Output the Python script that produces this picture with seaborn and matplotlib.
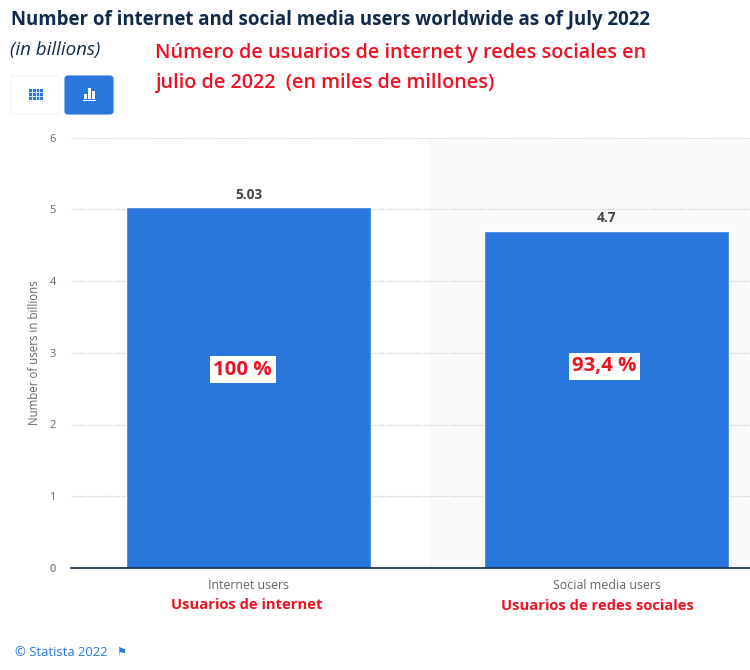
from matplotlib import pyplot as plt
from matplotlib.patches import FancyBboxPatch, Rectangle
import seaborn as sns
import pandas as pd

categories = ["Internet users", "Social media users"]
categories_es = ["Usuarios de internet", "Usuarios de redes sociales"]
users = [5.03, 4.7]
value_labels = ["5.03", "4.7"]
share_labels = ["100 %", "93,4 %"]
y_ticks = [0, 1, 2, 3, 4, 5, 6]

BLUE = "#2976dd"
RED = "#ee1122"
NAVY = "#0f2a4a"
W, H = 750, 670

sns.set_theme(style="white")
plt.rcParams["font.family"] = ["Open Sans", "DejaVu Sans"]

fig = plt.figure(figsize=(7.5, 6.7), dpi=100)
ax = fig.add_axes([71 / W, 1 - 568 / H, 679 / W, 430.5 / H])

df = pd.DataFrame({"category": categories, "users": users})
sns.barplot(data=df, x="category", y="users", color=BLUE, saturation=1, width=0.684, ax=ax, zorder=3)

ax.set_xlim(-0.497, 1.4)
ax.set_ylim(0, 6)
ax.axvspan(0.503, 1.4, ymax=0.995, color="#fafafa", zorder=0, lw=0)
ax.set_yticks(y_ticks)
ax.tick_params(axis="y", length=0, labelsize=8, labelcolor="#666666", pad=11)
ax.tick_params(axis="x", length=0, labelsize=8.9, labelcolor="#666666", pad=8)
ax.yaxis.grid(True, color="#c3d2de", linestyle=(0, (1, 1)), lw=1, zorder=1)
ax.set_axisbelow(True)
ax.set_xlabel("")
ax.set_ylabel("Number of users in billions", fontsize=8.3, color="#666666", labelpad=6)
for side in ["top", "right", "left"]:
    ax.spines[side].set_visible(False)
ax.spines["bottom"].set_color(NAVY)
ax.spines["bottom"].set_linewidth(1.2)
ax.spines["bottom"].set_zorder(5)

for i, v in enumerate(users):
    ax.annotate(value_labels[i], (i, v), xytext=(0, 4), textcoords="offset points", ha="center", va="bottom",
                fontsize=9.8, fontweight="bold", color="#444444")
    ax.annotate(categories_es[i], (i, 0), xytext=(-1.5 if i == 0 else -7, -26.5 if i == 0 else -27.5),
                textcoords="offset points", ha="center", va="center", fontsize=10.6, fontweight="bold",
                color=RED, annotation_clip=False)
    ax.text(i + (-0.017 if i == 0 else -0.007), 2.76 if i == 0 else 2.81, share_labels[i], ha="center", va="center",
            fontsize=14.7, fontweight="bold", color=RED, zorder=6,
            bbox=dict(facecolor="white", edgecolor="none", pad=2.5))

# header texts, placed in pixels from the top left
def put(x, y, s, **kw):
    fig.text(x / W, 1 - y / H, s, va="center", **kw)

put(11, 20, "Number of internet and social media users worldwide as of July 2022",
    fontsize=13.45, fontweight="bold", color=NAVY)
put(10, 50, "(in billions)", fontsize=13.5, style="italic", color=NAVY)
put(155, 53, "Número de usuarios de internet y redes sociales en", fontsize=14.2, fontweight="semibold", color=RED)
put(155, 83, "julio de 2022  (en miles de millones)", fontsize=14.2, fontweight="semibold", color=RED)
put(15, 652, "© Statista 2022", fontsize=9.4, color=BLUE)
put(116, 652, "⚑", fontsize=8, color=BLUE)

# table / chart switch buttons
def button(x, y, w, h, face, edge):
    fig.add_artist(FancyBboxPatch((x / W, 1 - (y + h) / H), w / W, h / H, transform=fig.transFigure,
                                  boxstyle="round,pad=0,rounding_size=0.004", fc=face, ec=edge, lw=0.8))

def block(x, y, w, h, color):
    fig.add_artist(Rectangle((x / W, 1 - (y + h) / H), w / W, h / H, transform=fig.transFigure, fc=color, ec="none"))

button(11, 76, 49, 38, "white", "#f3f3f3")
button(65, 76, 48, 38, BLUE, BLUE)
block(29, 89, 14, 11, BLUE)
for y0 in (92, 96):
    block(29, y0, 14, 1, "#cfe0f7")
for x0 in (32, 36, 39):
    block(x0, 89, 1, 11, "#cfe0f7")
for x0, top in [(84, 94), (87.5, 88), (92, 91)]:
    block(x0, top, 3, 99 - top, "white")
block(83, 100, 13, 1.2, "white")

fig.savefig("out.png", dpi=100)
